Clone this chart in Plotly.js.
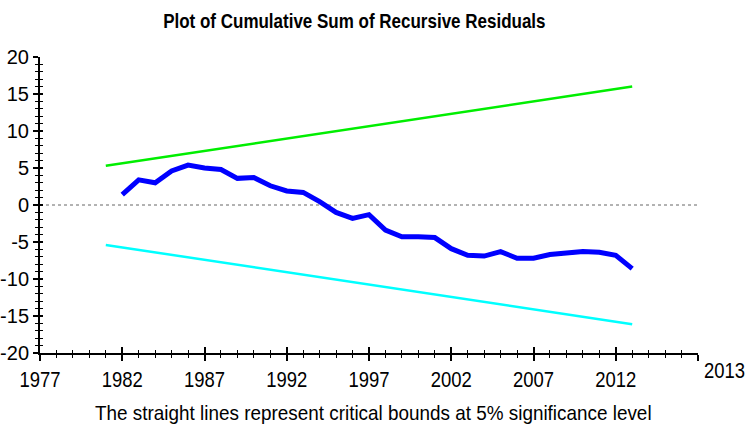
<!DOCTYPE html>
<html>
<head>
<meta charset="utf-8">
<script src="https://cdn.plot.ly/plotly-3.0.1.min.js"></script>
<style>html,body{margin:0;padding:0;background:#fff;}#chart{width:746px;height:427px;}</style>
</head>
<body>
<div id="chart"></div>
<script>
// Data
const years = [1982,1983,1984,1985,1986,1987,1988,1989,1990,1991,1992,1993,1994,1995,1996,1997,1998,1999,2000,2001,2002,2003,2004,2005,2006,2007,2008,2009,2010,2011,2012,2013];
const cusum = [1.4,3.4,3.0,4.6,5.4,5.0,4.8,3.6,3.7,2.6,1.9,1.7,0.45,-1.0,-1.8,-1.3,-3.4,-4.3,-4.3,-4.4,-5.9,-6.8,-6.9,-6.3,-7.2,-7.2,-6.7,-6.5,-6.3,-6.4,-6.8,-8.6];
const boundYears = [1981, 2013];
const upperBound = [5.3, 16.0];
const lowerBound = [-5.4, -16.1];
const xTickVals = [1977,1982,1987,1992,1997,2002,2007,2012,2017];
const xTickText = ['1977','1982','1987','1992','1997','2002','2007','2012',''];
const yTickVals = [-20,-15,-10,-5,0,5,10,15,20];
const yTickText = ['-20','-15','-10','-5','0','5','10','15','20'];
const endLabel = '2013';

const font = "'Liberation Sans', Arial, sans-serif";

const traces = [
  {x: boundYears, y: upperBound, mode: 'lines', line: {color: '#00ee00', width: 2.5}, hoverinfo: 'skip'},
  {x: boundYears, y: lowerBound, mode: 'lines', line: {color: '#00ffff', width: 2.5}, hoverinfo: 'skip'},
  {x: years, y: cusum, mode: 'lines', line: {color: '#0000ff', width: 5}, hoverinfo: 'skip'},
  {x: [], y: [], xaxis: 'x2', yaxis: 'y2', mode: 'lines', hoverinfo: 'skip'}
];

const axCommon = {showgrid: false, zeroline: false, showline: true, linecolor: '#000', linewidth: 2, tickcolor: '#000', tickwidth: 2, fixedrange: true};

const layout = {
  width: 746, height: 427,
  margin: {l: 40, r: 48, t: 57, b: 74},
  paper_bgcolor: '#fff', plot_bgcolor: '#fff',
  showlegend: false,
  title: {text: '<b>Plot of Cumulative Sum of Recursive Residuals</b>', font: {family: font, size: 20, color: '#000'}, x: 0.475, xanchor: 'center', y: 0.95, yanchor: 'middle'},
  xaxis: Object.assign({}, axCommon, {
    range: [1977, 2017], tickmode: 'array', tickvals: xTickVals, ticktext: xTickText,
    ticks: 'outside', ticklen: 6,
    minor: {dtick: 1, tick0: 1977, ticks: 'outside', ticklen: 3, tickcolor: '#000', tickwidth: 1},
    tickfont: {family: font, size: 22, color: '#000'}, anchor: 'y'
  }),
  yaxis: Object.assign({}, axCommon, {
    range: [-20, 20], tickmode: 'array', tickvals: yTickVals, ticktext: yTickText, ticks: 'outside', ticklen: 5,
    minor: {dtick: 1, tick0: -20, ticks: 'outside', ticklen: 3, tickcolor: '#000', tickwidth: 1},
    tickfont: {family: font, size: 20, color: '#000'}, anchor: 'x'
  }),
  xaxis2: Object.assign({}, axCommon, {
    overlaying: 'x', anchor: 'y2', side: 'bottom', range: [1977, 2017], tickmode: 'array', tickvals: xTickVals,
    showticklabels: false, ticks: 'inside', ticklen: 6,
    minor: {dtick: 1, tick0: 1977, ticks: 'inside', ticklen: 3, tickcolor: '#000', tickwidth: 1}
  }),
  yaxis2: Object.assign({}, axCommon, {
    overlaying: 'y', anchor: 'x2', side: 'left', range: [-20, 20], tickmode: 'array', tickvals: yTickVals,
    showticklabels: false, ticks: 'inside', ticklen: 3,
    minor: {dtick: 1, tick0: -20, ticks: 'inside', ticklen: 3, tickcolor: '#000', tickwidth: 1}
  }),
  shapes: [
    {type: 'line', xref: 'paper', yref: 'y', x0: 0, x1: 1, y0: 0, y1: 0, line: {color: '#666', width: 1, dash: 'dot'}, layer: 'below'}
  ],
  annotations: [
    {text: endLabel, xref: 'x', yref: 'paper', x: 2017, y: 0, xanchor: 'center', yanchor: 'top', xshift: 26, yshift: -3, showarrow: false, font: {family: font, size: 22, color: '#000'}},
    {text: 'The straight lines represent critical bounds at 5% significance level', xref: 'paper', yref: 'paper', x: 0.5, y: 0, xanchor: 'center', yanchor: 'middle', xshift: 4, yshift: -59, showarrow: false, font: {family: font, size: 21, color: '#000'}}
  ]
};

// Horizontally condense text to imitate the narrow font of the reference
function condense(el, s) {
  const bb = el.getBBox();
  const anchor = el.getAttribute('text-anchor') || getComputedStyle(el).textAnchor || 'start';
  let ax = bb.x;
  if (anchor === 'middle') ax = bb.x + bb.width / 2;
  else if (anchor === 'end') ax = bb.x + bb.width;
  const t = el.getAttribute('transform') || '';
  el.setAttribute('transform', t + ' translate(' + ax + ',0) scale(' + s + ',1) translate(' + (-ax) + ',0)');
}

Plotly.newPlot('chart', traces, layout, {displayModeBar: false, staticPlot: true}).then(function (gd) {
  gd.querySelectorAll('g.xtick text').forEach(function (el) { condense(el, 0.84); });
  gd.querySelectorAll('text.gtitle').forEach(function (el) { condense(el, 0.85); });
  const ann = gd.querySelectorAll('g.annotation text');
  ann.forEach(function (el) {
    if (el.textContent === endLabel) condense(el, 0.84);
    else condense(el, 0.9);
  });
});
</script>
</body>
</html>
